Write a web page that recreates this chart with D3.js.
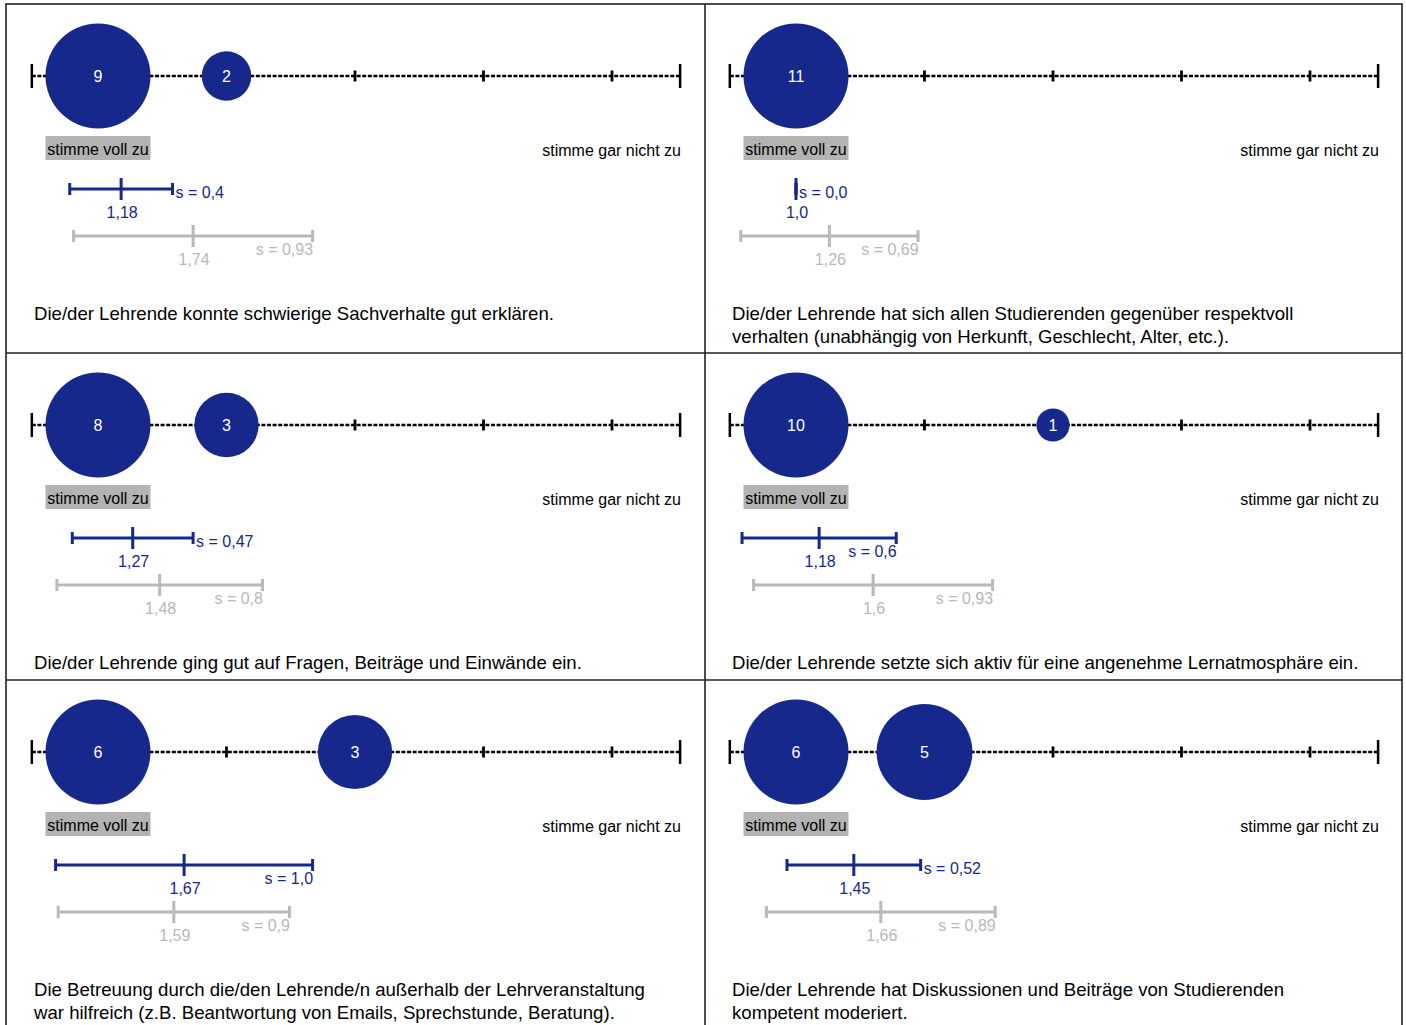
<!DOCTYPE html>
<html><head><meta charset="utf-8">
<script src="https://cdn.jsdelivr.net/npm/d3@7"></script>
<style>
html,body{margin:0;padding:0;background:#fff;}
text{font-family:"Liberation Sans",Arial,sans-serif;}
</style></head>
<body>
<svg id="c" width="1406" height="1025"></svg>
<script>
const questions = [
  ["Die/der Lehrende konnte schwierige Sachverhalte gut erklären."],
  ["Die/der Lehrende hat sich allen Studierenden gegenüber respektvoll", "verhalten (unabhängig von Herkunft, Geschlecht, Alter, etc.)."],
  ["Die/der Lehrende ging gut auf Fragen, Beiträge und Einwände ein."],
  ["Die/der Lehrende setzte sich aktiv für eine angenehme Lernatmosphäre ein."],
  ["Die Betreuung durch die/den Lehrende/n außerhalb der Lehrveranstaltung", "war hilfreich (z.B. Beantwortung von Emails, Sprechstunde, Beratung)."],
  ["Die/der Lehrende hat Diskussionen und Beiträge von Studierenden", "kompetent moderiert."]
];
const scaleValues = [1, 2, 3, 4, 5];
const counts = [
  [9, 2, 0, 0, 0],
  [11, 0, 0, 0, 0],
  [8, 3, 0, 0, 0],
  [10, 0, 1, 0, 0],
  [6, 0, 3, 0, 0],
  [6, 5, 0, 0, 0]
];
const means = [1.18, 1.0, 1.27, 1.18, 1.67, 1.45];
const meanLabels = ["1,18", "1,0", "1,27", "1,18", "1,67", "1,45"];
const sds = [0.4, 0.0, 0.47, 0.6, 1.0, 0.52];
const sdLabels = ["0,4", "0,0", "0,47", "0,6", "1,0", "0,52"];
const refMeans = [1.74, 1.26, 1.48, 1.6, 1.59, 1.66];
const refMeanLabels = ["1,74", "1,26", "1,48", "1,6", "1,59", "1,66"];
const refSds = [0.93, 0.69, 0.8, 0.93, 0.9, 0.89];
const refSdLabels = ["0,93", "0,69", "0,8", "0,93", "0,9", "0,89"];
const leftLabel = "stimme voll zu";
const rightLabel = "stimme gar nicht zu";

const NAVY = "#16288c", GREY = "#b9b9b9", GREYTXT = "#b8b8b8";
const svg = d3.select("#c");
const colX = [6, 704];
const rowY = [4, 353, 680];

// frame
const frame = svg.append("g").attr("stroke", "#222").attr("stroke-width", 1.6).attr("fill", "none");
frame.append("rect").attr("x", 6).attr("y", 4).attr("width", 1396).attr("height", 1040);
frame.append("line").attr("x1", 705).attr("x2", 705).attr("y1", 4).attr("y2", 1045);
[353, 680].forEach(y => frame.append("line").attr("x1", 6).attr("x2", 1402).attr("y1", y).attr("y2", y));

questions.forEach((q, i) => {
  const col = i % 2, row = Math.floor(i / 2);
  const x0 = colX[col], y0 = rowY[row];
  const g = svg.append("g");
  const x = d3.scaleLinear().domain([1, 5]).range([x0 + 92, x0 + 606]);
  const ay = y0 + 72;
  const xs = x(0.485), xe = x(5.53);

  // dotted axis line
  g.append("line").attr("x1", xs).attr("x2", xe).attr("y1", ay).attr("y2", ay)
    .attr("stroke", "#000").attr("stroke-width", 2.4).attr("stroke-dasharray", "4,1.6");
  // end caps
  [xs, xe].forEach(v => g.append("line").attr("x1", v).attr("x2", v).attr("y1", ay - 12).attr("y2", ay + 12)
    .attr("stroke", "#000").attr("stroke-width", 2.5));
  // ticks
  g.selectAll(".tk").data(scaleValues).join("line")
    .attr("x1", d => x(d)).attr("x2", d => x(d)).attr("y1", ay - 5.5).attr("y2", ay + 5.5)
    .attr("stroke", "#000").attr("stroke-width", 2.8);

  // bubbles
  const r = d3.scaleSqrt().domain([0, d3.max(counts[i])]).range([0, 52.5]);
  const data = scaleValues.map((v, k) => ({v, n: counts[i][k]})).filter(d => d.n > 0);
  g.selectAll(".b").data(data).join("circle")
    .attr("cx", d => x(d.v)).attr("cy", ay).attr("r", d => r(d.n)).attr("fill", NAVY);
  g.selectAll(".bt").data(data).join("text")
    .attr("x", d => x(d.v)).attr("y", ay + 6).attr("text-anchor", "middle")
    .attr("fill", "#fff").attr("font-size", 16).text(d => d.n);

  // labels
  const lx = x(1);
  g.append("rect").attr("x", lx - 52.5).attr("y", ay + 60).attr("width", 105).attr("height", 24).attr("fill", "#b3b3b3");
  g.append("text").attr("x", lx).attr("y", ay + 79).attr("text-anchor", "middle").attr("font-size", 16)
    .attr("fill", "#000").text(leftLabel);
  g.append("text").attr("x", x0 + 675).attr("y", ay + 79.5).attr("text-anchor", "end").attr("font-size", 16)
    .attr("fill", "#000").text(rightLabel);

  // error bars
  function errBar(m, s, mLab, sLab, by, color, txtColor, alwaysBelow) {
    const a = x(m - s), b = x(m + s), c = x(m);
    const eg = g.append("g").attr("stroke", color).attr("stroke-width", 3);
    eg.append("line").attr("x1", a).attr("x2", b).attr("y1", by).attr("y2", by);
    eg.append("line").attr("x1", a).attr("x2", a).attr("y1", by - 6).attr("y2", by + 6);
    eg.append("line").attr("x1", b).attr("x2", b).attr("y1", by - 6).attr("y2", by + 6);
    eg.append("line").attr("x1", c).attr("x2", c).attr("y1", by - 11).attr("y2", by + 11);
    g.append("text").attr("x", c + 1).attr("y", by + 29).attr("text-anchor", "middle")
      .attr("font-size", 16).attr("fill", txtColor).text(mLab);
    if (alwaysBelow || s >= 0.55) {
      g.append("text").attr("x", b + 0.5).attr("y", by + 19).attr("text-anchor", "end")
        .attr("font-size", 16).attr("fill", txtColor).text("s = " + sLab);
    } else {
      g.append("text").attr("x", b + 3).attr("y", by + 8.5).attr("text-anchor", "start")
        .attr("font-size", 16).attr("fill", txtColor).text("s = " + sLab);
    }
  }
  errBar(means[i], sds[i], meanLabels[i], sdLabels[i], ay + 113, NAVY, NAVY, false);
  errBar(refMeans[i], refSds[i], refMeanLabels[i], refSdLabels[i], ay + 160, GREY, GREYTXT, true);

  // question text
  q.forEach((line, k) => g.append("text").attr("x", x0 + 28).attr("y", y0 + 315.5 + k * 23)
    .attr("font-size", 18.6).attr("fill", "#000").text(line));
});
</script>
</body></html>
